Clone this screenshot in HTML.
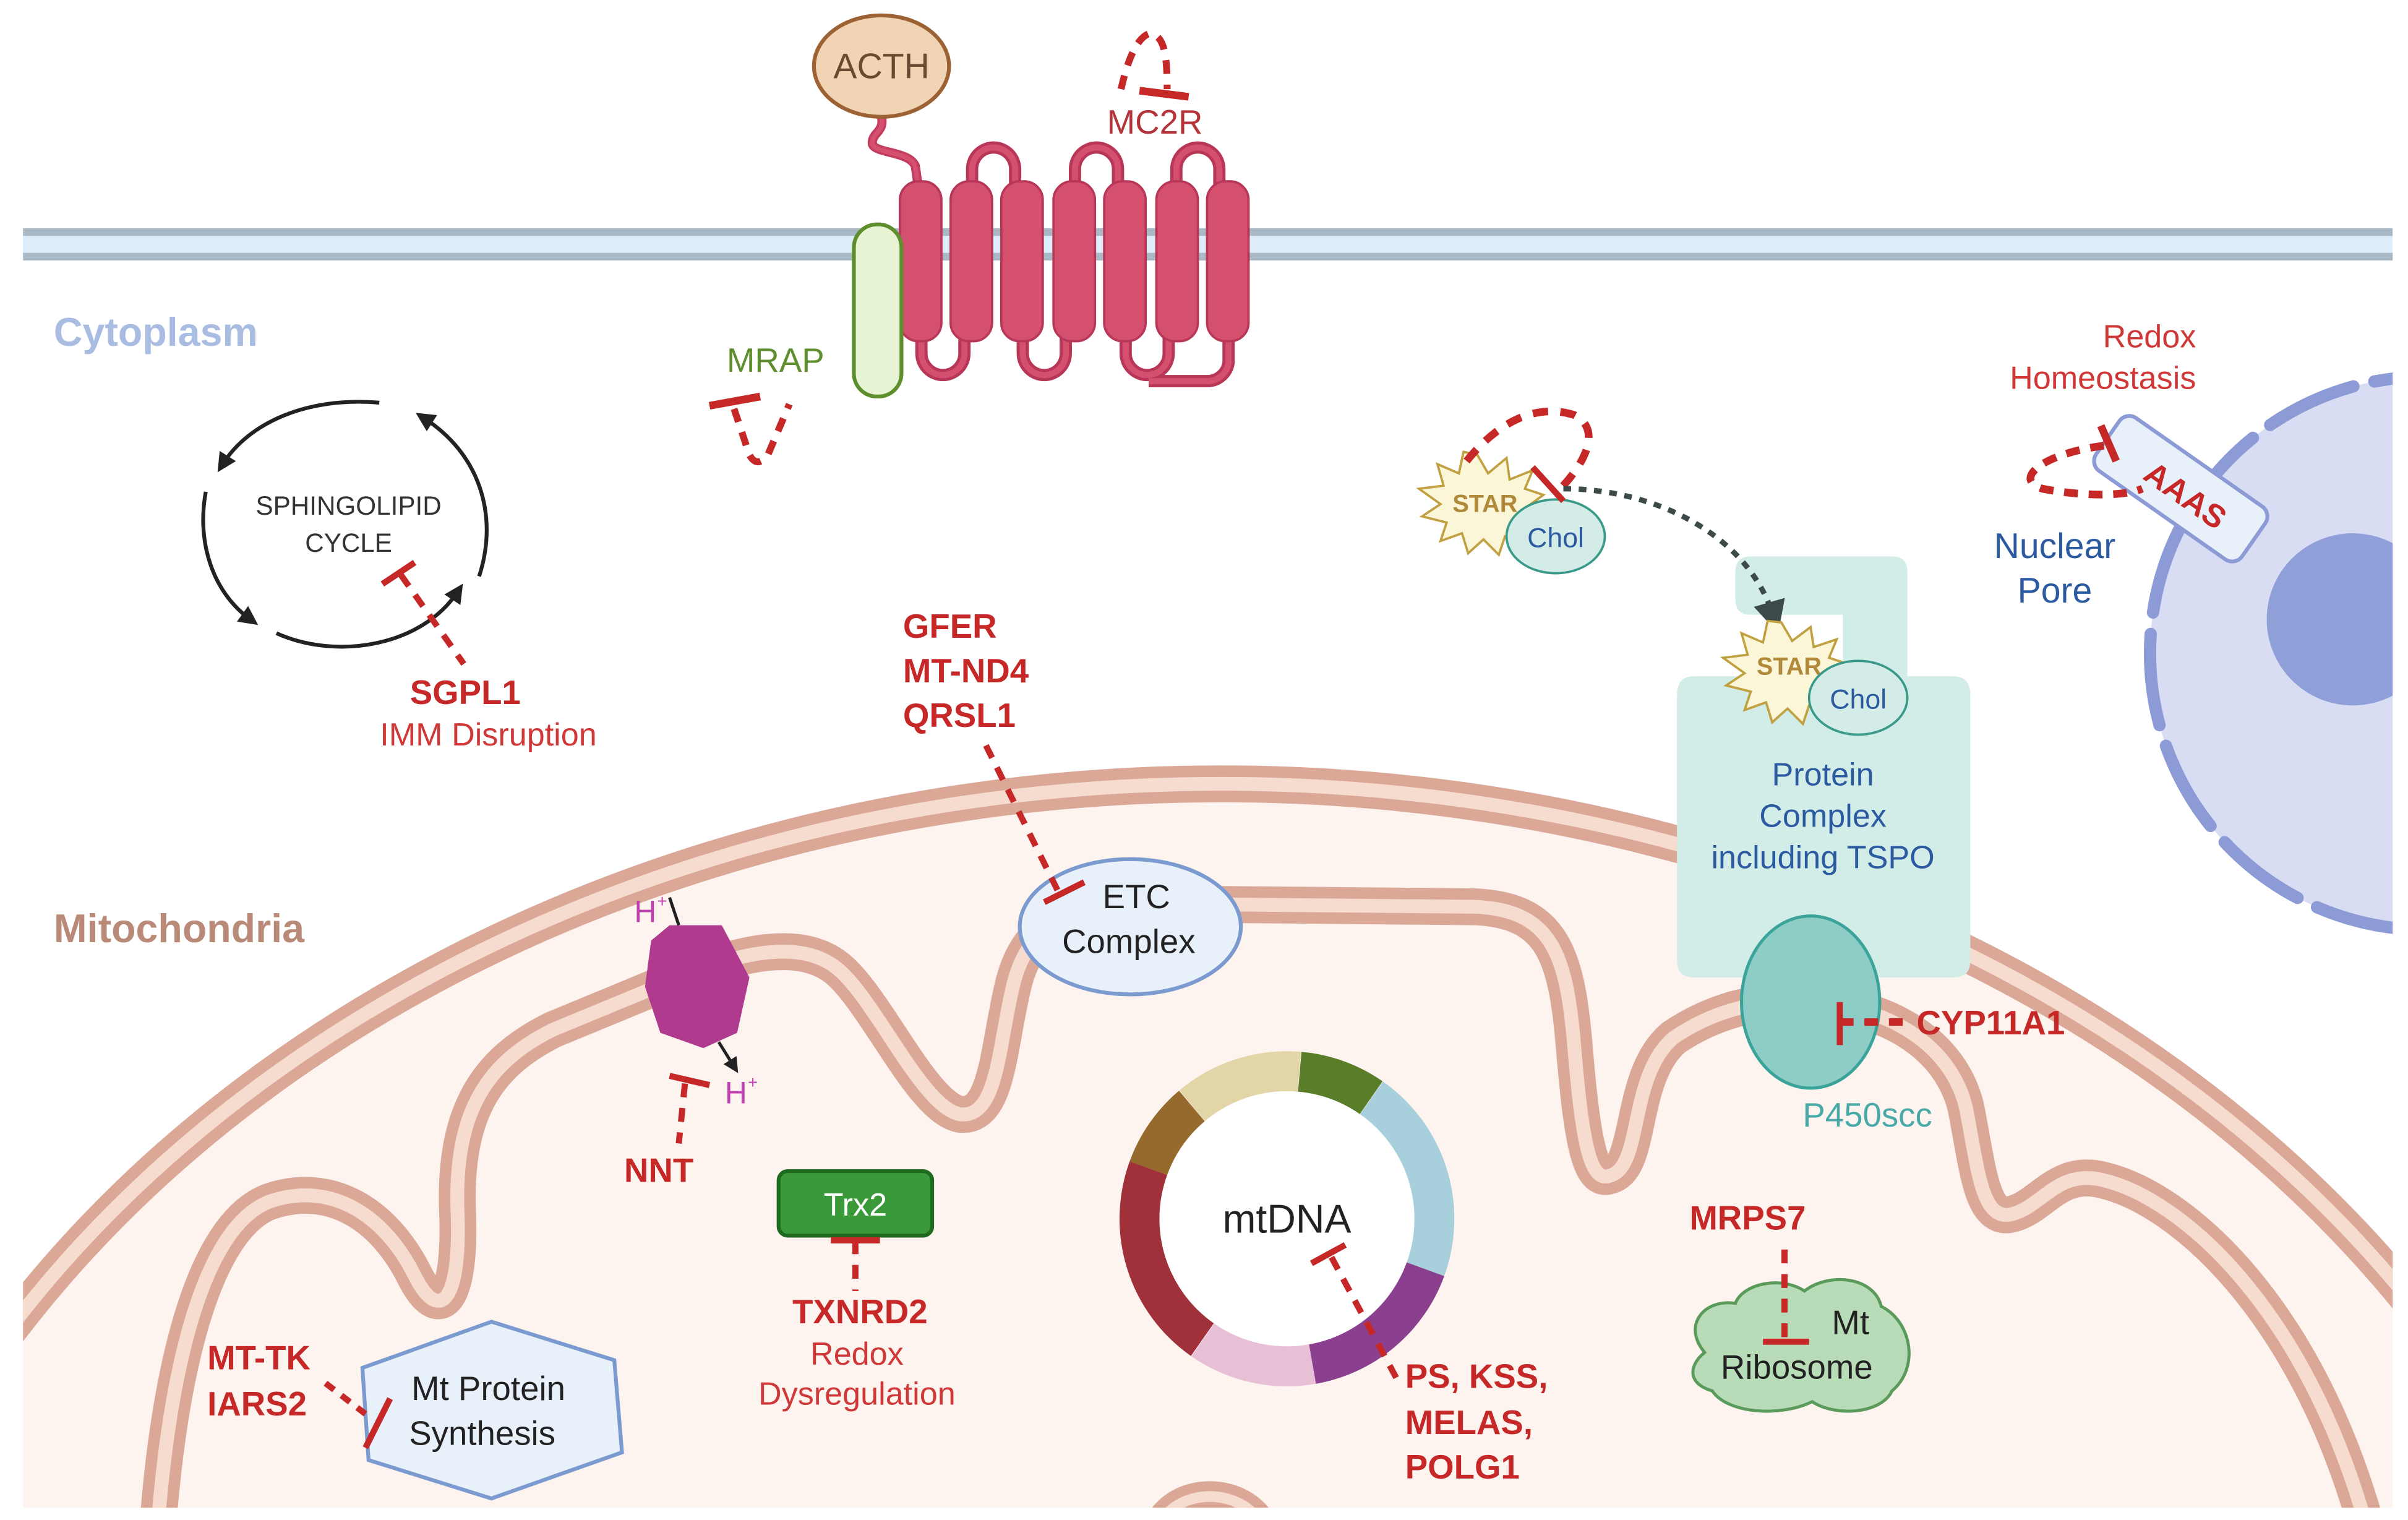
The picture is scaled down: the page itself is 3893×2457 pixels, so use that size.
<!DOCTYPE html>
<html><head><meta charset="utf-8"><style>
html,body{margin:0;padding:0;background:#fff;width:3893px;height:2457px;overflow:hidden}
svg{display:block}
text{font-family:"Liberation Sans",sans-serif}
</style></head><body>
<svg width="3893" height="2457" viewBox="0 0 1568 989" preserveAspectRatio="none" xmlns="http://www.w3.org/2000/svg">
<defs>
<clipPath id="mc"><rect x="15" y="0" width="1543" height="981"/></clipPath>
<clipPath id="nc"><rect x="0" y="0" width="1558" height="989"/></clipPath>
<marker id="ah" viewBox="0 0 10 10" refX="5" refY="5" markerWidth="5" markerHeight="5" orient="auto"><path d="M0,0 L10,5 L0,10 z" fill="#222"/></marker>
<marker id="ag" viewBox="0 0 10 10" refX="5" refY="5" markerWidth="6" markerHeight="6" orient="auto"><path d="M0,0 L10,5 L0,10 z" fill="#3c4a4a"/></marker>
</defs>
<rect width="1568" height="989" fill="#fff"/>

<rect x="15" y="150" width="1543" height="18" fill="#ddeefa"/>
<line x1="15" y1="151" x2="1558" y2="151" stroke="#aab9c6" stroke-width="5"/>
<line x1="15" y1="167" x2="1558" y2="167" stroke="#aab9c6" stroke-width="5"/>
<text x="35" y="225" font-size="26" font-weight="bold" fill="#a9bde3">Cytoplasm</text>

<g clip-path="url(#nc)">
<circle cx="1580" cy="425" r="180" fill="#d9ddf3"/>
<circle cx="1580" cy="425" r="180" fill="none" stroke="#8c9bd6" stroke-width="8" stroke-dasharray="60 14" stroke-linecap="round"/>
<circle cx="1532" cy="403" r="56" fill="#8fa0d8"/>
</g>
<g transform="rotate(35 1420 318)">
<rect x="1362" y="297" width="116" height="42" rx="8" fill="#e8f0fa" stroke="#8c9bd6" stroke-width="2.5"/>
<text x="1425" y="327" font-size="21" font-weight="bold" fill="#c62828" text-anchor="middle">AAAS</text>
</g>
<path d="M1370,290 C1330,295 1310,312 1330,318 C1350,322 1380,324 1395,318" fill="none" stroke="#c62828" stroke-width="5" stroke-dasharray="9 7"/>
<line x1="1368" y1="277" x2="1378" y2="300" stroke="#c62828" stroke-width="5"/>
<text x="1430" y="226" font-size="21" fill="#d03838" text-anchor="end">Redox</text>
<text x="1430" y="253" font-size="21" fill="#d03838" text-anchor="end">Homeostasis</text>
<text x="1338" y="363" font-size="23" fill="#2c5aa0" text-anchor="middle">Nuclear</text>
<text x="1338" y="392" font-size="23" fill="#2c5aa0" text-anchor="middle">Pore</text>

<g clip-path="url(#mc)">
<ellipse cx="795" cy="1250" rx="924" ry="740" fill="#fdf3ef"/>
<ellipse cx="795" cy="1250" rx="924" ry="740" fill="none" stroke="#dba898" stroke-width="24"/>
<ellipse cx="795" cy="1250" rx="924" ry="740" fill="none" stroke="#f6dccf" stroke-width="9"/>
<path d="M103 990 C110 900,130 800,175 782 C215 768,250 790,270 830 C285 860,300 850,298 790 C295 720,320 690,360 670 L452 632 C480 622,520 610,545 630 C570 650,600 720,625 725 C650 728,650 680,660 640 C670 600,700 588,740 588 L960 590 C1010 592,1020 620,1025 680 C1030 740,1035 770,1048 765 C1070 760,1060 700,1090 675 C1120 655,1150 650,1180 652 C1230 655,1270 680,1280 720 C1288 760,1290 795,1310 790 C1330 785,1340 760,1370 768 C1420 780,1500 850,1540 990" fill="none" stroke="#dba898" stroke-width="24"/>
<path d="M103 990 C110 900,130 800,175 782 C215 768,250 790,270 830 C285 860,300 850,298 790 C295 720,320 690,360 670 L452 632 C480 622,520 610,545 630 C570 650,600 720,625 725 C650 728,650 680,660 640 C670 600,700 588,740 588 L960 590 C1010 592,1020 620,1025 680 C1030 740,1035 770,1048 765 C1070 760,1060 700,1090 675 C1120 655,1150 650,1180 652 C1230 655,1270 680,1280 720 C1288 760,1290 795,1310 790 C1330 785,1340 760,1370 768 C1420 780,1500 850,1540 990" fill="none" stroke="#f6dccf" stroke-width="9"/>
<path d="M752 1000 C760 965,815 965,825 1000" fill="none" stroke="#dba898" stroke-width="20"/>
<path d="M752 1000 C760 965,815 965,825 1000" fill="none" stroke="#f6dccf" stroke-width="7"/>
</g>
<text x="35" y="613" font-size="26" font-weight="bold" fill="#b98a78">Mitochondria</text>

<path d="M1140,362 H1232 Q1242,362 1242,372 V440 H1272 Q1283,440 1283,452 V625 Q1283,636 1272,636 H1103 Q1092,636 1092,625 V452 Q1092,440 1103,440 H1200 V400 H1140 Q1130,400 1130,390 V372 Q1130,362 1140,362 Z" fill="#d2ede8"/>
<text x="1187" y="511" font-size="21" fill="#2c5aa0" text-anchor="middle">Protein</text>
<text x="1187" y="538" font-size="21" fill="#2c5aa0" text-anchor="middle">Complex</text>
<text x="1187" y="565" font-size="21" fill="#2c5aa0" text-anchor="middle">including TSPO</text>
<ellipse cx="1179" cy="652" rx="45" ry="56" fill="#8ecdc6" stroke="#3aa39a" stroke-width="2"/>
<line x1="1198" y1="652" x2="1198" y2="680" stroke="#c62828" stroke-width="4"/>
<line x1="1198" y1="665" x2="1245" y2="665" stroke="#c62828" stroke-width="5" stroke-dasharray="9 7"/>
<text x="1248" y="673" font-size="22" font-weight="bold" fill="#c62828">CYP11A1</text>
<text x="1216" y="733" font-size="22" fill="#48aaa8" text-anchor="middle">P450scc</text>

<polygon points="962,296 969,308 981,298 983,312 998,306 993,318 1005,322 994,330 1004,340 990,341 994,354 980,349 976,361 966,351 956,360 952,347 938,352 942,340 926,336 938,328 924,318 940,316 936,302 950,308 953,294" fill="#fbf6d8" stroke="#c0a040" stroke-width="1.5"/>
<text x="967" y="333" font-size="16" font-weight="bold" fill="#b08a3a" text-anchor="middle">STAR</text>
<ellipse cx="1013" cy="349" rx="32" ry="24" fill="#d4ece8" stroke="#3a9a8a" stroke-width="1.5"/>
<text x="1013" y="356" font-size="18" fill="#2c5aa0" text-anchor="middle">Chol</text>
<path d="M955,300 C975,275 1000,262 1025,270 C1045,280 1030,305 1012,322" fill="none" stroke="#c62828" stroke-width="5" stroke-dasharray="10 8"/>
<line x1="998" y1="304" x2="1018" y2="326" stroke="#c62828" stroke-width="4"/>
<path d="M1018,318 C1080,318 1140,350 1155,402" fill="none" stroke="#3c4a4a" stroke-width="3.5" stroke-dasharray="5 5" marker-end="url(#ag)"/>
<polygon points="1160,405 1167,417 1179,408 1181,421 1196,416 1191,428 1203,432 1192,440 1202,450 1188,451 1192,464 1178,459 1174,471 1164,461 1154,470 1150,457 1136,462 1140,450 1124,446 1136,438 1122,428 1138,426 1134,412 1148,418 1151,404" fill="#fbf6d8" stroke="#c0a040" stroke-width="1.5"/>
<text x="1165" y="439" font-size="16" font-weight="bold" fill="#b08a3a" text-anchor="middle">STAR</text>
<ellipse cx="1210" cy="454" rx="32" ry="24" fill="#d4ece8" stroke="#3a9a8a" stroke-width="1.5"/>
<text x="1210" y="461" font-size="18" fill="#2c5aa0" text-anchor="middle">Chol</text>

<path d="M574,76 C576,86 568,86 568,93 C568,100 592,98 596,108 L598,122" fill="none" stroke="#c43c60" stroke-width="6"/>
<path d="M574,76 C576,86 568,86 568,93 C568,100 592,98 596,108 L598,122" fill="none" stroke="#d4506e" stroke-width="3"/>
<ellipse cx="574" cy="43" rx="44" ry="33" fill="#f0d4b4" stroke="#9c6234" stroke-width="2.5"/>
<text x="574" y="51" font-size="23" fill="#6a4a30" text-anchor="middle">ACTH</text>
<g fill="none" stroke="#b83658" stroke-width="8">
<path d="M633,120 V110 A14 14 0 0 1 661,110 V120"/>
<path d="M700,120 V110 A14 14 0 0 1 728,110 V120"/>
<path d="M766,120 V110 A14 14 0 0 1 794,110 V120"/>
<path d="M600,220 V230 A14 14 0 0 0 628,230 V220"/>
<path d="M666,220 V230 A14 14 0 0 0 694,230 V220"/>
<path d="M733,220 V230 A14 14 0 0 0 761,230 V220"/>
<path d="M800,220 V236 A14 14 0 0 1 786,248 H748"/>
</g>
<g fill="none" stroke="#d4506e" stroke-width="4">
<path d="M633,120 V110 A14 14 0 0 1 661,110 V120"/>
<path d="M700,120 V110 A14 14 0 0 1 728,110 V120"/>
<path d="M766,120 V110 A14 14 0 0 1 794,110 V120"/>
<path d="M600,220 V230 A14 14 0 0 0 628,230 V220"/>
<path d="M666,220 V230 A14 14 0 0 0 694,230 V220"/>
<path d="M733,220 V230 A14 14 0 0 0 761,230 V220"/>
<path d="M800,220 V236 A14 14 0 0 1 786,248 H748"/>
</g>
<g fill="#d4506e" stroke="#b83658" stroke-width="1.5">
<rect x="586" y="118" width="27" height="104" rx="12"/>
<rect x="619" y="118" width="27" height="104" rx="12"/>
<rect x="652" y="118" width="27" height="104" rx="12"/>
<rect x="686" y="118" width="27" height="104" rx="12"/>
<rect x="719" y="118" width="27" height="104" rx="12"/>
<rect x="753" y="118" width="27" height="104" rx="12"/>
<rect x="786" y="118" width="27" height="104" rx="12"/>
</g>
<rect x="556" y="146" width="31" height="112" rx="15" fill="#e6f4d4" stroke="#5e8e2e" stroke-width="2.5"/>
<text x="752" y="87" font-size="22" fill="#b5343a" text-anchor="middle">MC2R</text>
<path d="M730,58 C734,40 740,25 748,22 C758,22 760,35 760,58" fill="none" stroke="#c62828" stroke-width="4.5" stroke-dasharray="9 7"/>
<line x1="742" y1="59" x2="774" y2="63" stroke="#c62828" stroke-width="5"/>
<text x="505" y="242" font-size="22" fill="#5e8e2e" text-anchor="middle">MRAP</text>
<line x1="462" y1="264" x2="495" y2="258" stroke="#c62828" stroke-width="5"/>
<path d="M478,266 L488,296 Q493,305 500,296 L514,263" fill="none" stroke="#c62828" stroke-width="4.5" stroke-dasharray="9 7"/>

<g fill="none" stroke="#222" stroke-width="2.5" marker-end="url(#ah)">
<path d="M247,262 C200,258 162,275 145,302"/>
<path d="M134,320 C128,352 138,385 163,403"/>
<path d="M180,412 C220,430 275,420 298,385"/>
<path d="M312,375 C325,335 312,295 276,272"/>
</g>
<text x="227" y="335" font-size="17" fill="#333" text-anchor="middle">SPHINGOLIPID</text>
<text x="227" y="359" font-size="17" fill="#333" text-anchor="middle">CYCLE</text>
<line x1="249" y1="380" x2="270" y2="366" stroke="#c62828" stroke-width="4"/>
<line x1="261" y1="374" x2="302" y2="432" stroke="#c62828" stroke-width="4" stroke-dasharray="9 7"/>
<text x="303" y="458" font-size="22" font-weight="bold" fill="#c62828" text-anchor="middle">SGPL1</text>
<text x="318" y="485" font-size="21" fill="#d03838" text-anchor="middle">IMM Disruption</text>

<text x="588" y="415" font-size="22" font-weight="bold" fill="#c62828">GFER</text>
<text x="588" y="444" font-size="22" font-weight="bold" fill="#c62828">MT-ND4</text>
<text x="588" y="473" font-size="22" font-weight="bold" fill="#c62828">QRSL1</text>
<ellipse cx="736" cy="603" rx="72" ry="44" fill="#e8f0fa" stroke="#7a9ad0" stroke-width="2.5"/>
<text x="740" y="591" font-size="22" fill="#222" text-anchor="middle">ETC</text>
<text x="735" y="620" font-size="22" fill="#222" text-anchor="middle">Complex</text>
<line x1="642" y1="485" x2="690" y2="582" stroke="#c62828" stroke-width="4" stroke-dasharray="9 7"/>
<line x1="680" y1="587" x2="706" y2="574" stroke="#c62828" stroke-width="4"/>

<polygon points="436,602 470,602 488,636 480,672 458,682 430,672 420,642 424,612" fill="#b03a8e"/>
<text x="413" y="600" font-size="20" fill="#c040b0">H</text><text x="428" y="590" font-size="11" fill="#c040b0">+</text>
<line x1="436" y1="584" x2="442" y2="602" stroke="#222" stroke-width="2"/>
<line x1="468" y1="678" x2="478" y2="694" stroke="#222" stroke-width="2" marker-end="url(#ah)"/>
<text x="472" y="718" font-size="20" fill="#c040b0">H</text><text x="487" y="708" font-size="11" fill="#c040b0">+</text>
<line x1="436" y1="700" x2="462" y2="706" stroke="#c62828" stroke-width="4"/>
<line x1="446" y1="705" x2="442" y2="744" stroke="#c62828" stroke-width="4" stroke-dasharray="9 7"/>
<text x="429" y="769" font-size="22" font-weight="bold" fill="#c62828" text-anchor="middle">NNT</text>

<rect x="507" y="762" width="100" height="42" rx="6" fill="#3a9a3a" stroke="#1e6a1e" stroke-width="2.5"/>
<text x="557" y="791" font-size="21" fill="#fff" text-anchor="middle">Trx2</text>
<line x1="541" y1="807" x2="573" y2="807" stroke="#c62828" stroke-width="4"/>
<line x1="557" y1="807" x2="557" y2="840" stroke="#c62828" stroke-width="4" stroke-dasharray="9 7"/>
<text x="560" y="861" font-size="22" font-weight="bold" fill="#c62828" text-anchor="middle">TXNRD2</text>
<text x="558" y="888" font-size="21" fill="#d03838" text-anchor="middle">Redox</text>
<text x="558" y="914" font-size="21" fill="#d03838" text-anchor="middle">Dysregulation</text>

<polygon points="320,860 400,885 405,945 320,975 240,950 236,890" fill="#e8f0fa" stroke="#7a9ad0" stroke-width="2.5"/>
<text x="318" y="911" font-size="22" fill="#222" text-anchor="middle">Mt Protein</text>
<text x="314" y="940" font-size="22" fill="#222" text-anchor="middle">Synthesis</text>
<text x="135" y="891" font-size="22" font-weight="bold" fill="#c62828">MT-TK</text>
<text x="135" y="921" font-size="22" font-weight="bold" fill="#c62828">IARS2</text>
<line x1="212" y1="900" x2="238" y2="920" stroke="#c62828" stroke-width="4" stroke-dasharray="7 6"/>
<line x1="254" y1="910" x2="238" y2="942" stroke="#c62828" stroke-width="4"/>

<g fill="none" stroke-width="26">
<circle cx="838" cy="793" r="96" stroke="#e2d5a8" stroke-dasharray="75 1000" transform="rotate(230 838 793)"/>
<circle cx="838" cy="793" r="96" stroke="#5a7d2a" stroke-dasharray="50 1000" transform="rotate(-85 838 793)"/>
<circle cx="838" cy="793" r="96" stroke="#a8d0dc" stroke-dasharray="126 1000" transform="rotate(-55 838 793)"/>
<circle cx="838" cy="793" r="96" stroke="#8a3f8f" stroke-dasharray="101 1000" transform="rotate(20 838 793)"/>
<circle cx="838" cy="793" r="96" stroke="#e8c0d6" stroke-dasharray="75 1000" transform="rotate(80 838 793)"/>
<circle cx="838" cy="793" r="96" stroke="#a0303a" stroke-dasharray="126 1000" transform="rotate(125 838 793)"/>
<circle cx="838" cy="793" r="96" stroke="#956a2c" stroke-dasharray="50 1000" transform="rotate(200 838 793)"/>
</g>
<circle cx="838" cy="793" r="83" fill="#fff"/>
<text x="838" y="802" font-size="26" fill="#222" text-anchor="middle">mtDNA</text>
<line x1="854" y1="822" x2="876" y2="810" stroke="#c62828" stroke-width="4"/>
<line x1="867" y1="818" x2="910" y2="898" stroke="#c62828" stroke-width="4" stroke-dasharray="9 7"/>
<text x="915" y="903" font-size="22" font-weight="bold" fill="#c62828">PS, KSS,</text>
<text x="915" y="933" font-size="22" font-weight="bold" fill="#c62828">MELAS,</text>
<text x="915" y="962" font-size="22" font-weight="bold" fill="#c62828">POLG1</text>

<path d="M1110,880 C1095,862 1110,845 1130,848 C1135,835 1160,830 1175,840 C1190,828 1220,830 1225,850 C1245,860 1250,890 1232,905 C1225,920 1195,922 1180,912 C1160,922 1125,920 1115,905 C1098,900 1100,888 1110,880 Z" fill="#b8dcb8" stroke="#5a9a5a" stroke-width="2"/>
<text x="1205" y="868" font-size="22" fill="#222" text-anchor="middle">Mt</text>
<text x="1170" y="897" font-size="22" fill="#222" text-anchor="middle">Ribosome</text>
<text x="1138" y="800" font-size="22" font-weight="bold" fill="#c62828" text-anchor="middle">MRPS7</text>
<line x1="1162" y1="813" x2="1162" y2="870" stroke="#c62828" stroke-width="4" stroke-dasharray="9 7"/>
<line x1="1148" y1="873" x2="1178" y2="873" stroke="#c62828" stroke-width="4"/>
</svg>
</body></html>
